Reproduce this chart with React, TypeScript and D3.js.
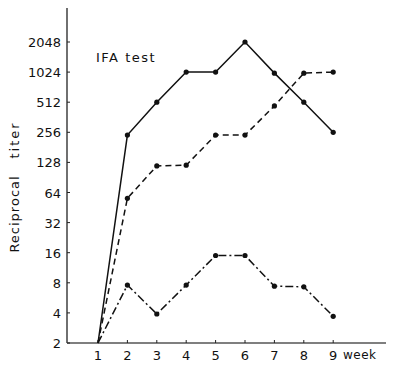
import React, { useEffect, useRef } from "react";
import * as d3 from "d3";

const weeks = [1, 2, 3, 4, 5, 6, 7, 8, 9];
const solidSeries = [2, 240, 512, 1024, 1024, 2048, 1000, 512, 256];
const dashedSeries = [2, 56, 118, 120, 240, 240, 470, 1000, 1024];
const dashDotSeries = [2, 7.6, 3.9, 7.6, 15, 15, 7.4, 7.3, 3.7];
const yTicks = [2, 4, 8, 16, 32, 64, 128, 256, 512, 1024, 2048];

export default function App() {
  const ref = useRef<SVGSVGElement>(null);

  useEffect(() => {
    const svg = d3.select(ref.current);
    svg.selectAll("*").remove();

    const x = d3.scaleLinear().domain([0, 10]).range([68.6, 362.6]);
    const y = d3.scaleLog().base(2).domain([2, 2048]).range([343, 42]);
    const font = "'DejaVu Sans', sans-serif";

    // axes
    svg.append("line").attr("x1", 67).attr("x2", 67).attr("y1", 8).attr("y2", 343)
      .attr("stroke", "#222").attr("stroke-width", 1.3);
    svg.append("line").attr("x1", 67).attr("x2", 386).attr("y1", 343).attr("y2", 343)
      .attr("stroke", "#555").attr("stroke-width", 1.3);

    yTicks.forEach(t => {
      svg.append("line").attr("x1", 67).attr("x2", 70).attr("y1", y(t)).attr("y2", y(t))
        .attr("stroke", "#222").attr("stroke-width", 1);
      svg.append("text").attr("x", 61).attr("y", y(t) + 5)
        .attr("text-anchor", "end").attr("font-family", font).attr("font-size", 13)
        .attr("fill", "#111").text(String(t));
    });

    weeks.forEach(w => {
      svg.append("line").attr("x1", x(w)).attr("x2", x(w)).attr("y1", 343).attr("y2", 340)
        .attr("stroke", "#222").attr("stroke-width", 1);
      svg.append("text").attr("x", x(w)).attr("y", 360)
        .attr("text-anchor", "middle").attr("font-family", font).attr("font-size", 13)
        .attr("fill", "#111").text(String(w));
    });

    svg.append("text").attr("x", 343).attr("y", 359).attr("font-family", font)
      .attr("font-size", 12).attr("fill", "#111").attr("letter-spacing", 0.5).text("week");

    svg.append("text").attr("x", 96).attr("y", 62).attr("font-family", font)
      .attr("font-size", 13).attr("fill", "#111").attr("letter-spacing", 1.5).text("IFA test");

    // y label, two words spaced apart like the original
    svg.append("text").attr("transform", "translate(19,214) rotate(-90)")
      .attr("text-anchor", "middle").attr("font-family", font).attr("font-size", 13)
      .attr("fill", "#111").attr("letter-spacing", 1).text("Reciprocal");
    svg.append("text").attr("transform", "translate(19,140) rotate(-90)")
      .attr("text-anchor", "middle").attr("font-family", font).attr("font-size", 13)
      .attr("fill", "#111").attr("letter-spacing", 2).text("titer");

    const line = d3.line<number>().x((d, i) => x(weeks[i])).y(d => y(d));

    const series = [
      { data: solidSeries, dash: null },
      { data: dashedSeries, dash: "6,4" },
      { data: dashDotSeries, dash: "8,3,2,3" },
    ];

    series.forEach(s => {
      svg.append("path").datum(s.data).attr("d", line).attr("fill", "none")
        .attr("stroke", "#111").attr("stroke-width", 1.5)
        .attr("stroke-dasharray", s.dash);
      svg.selectAll(null).data(s.data.slice(1)).join("circle")
        .attr("cx", (d, i) => x(weeks[i + 1])).attr("cy", d => y(d))
        .attr("r", 2.6).attr("fill", "#111");
    });
  }, []);

  return <svg ref={ref} width={394} height={371} style={{ position: "absolute", left: 0, top: 0, background: "#fff" }} />;
}
